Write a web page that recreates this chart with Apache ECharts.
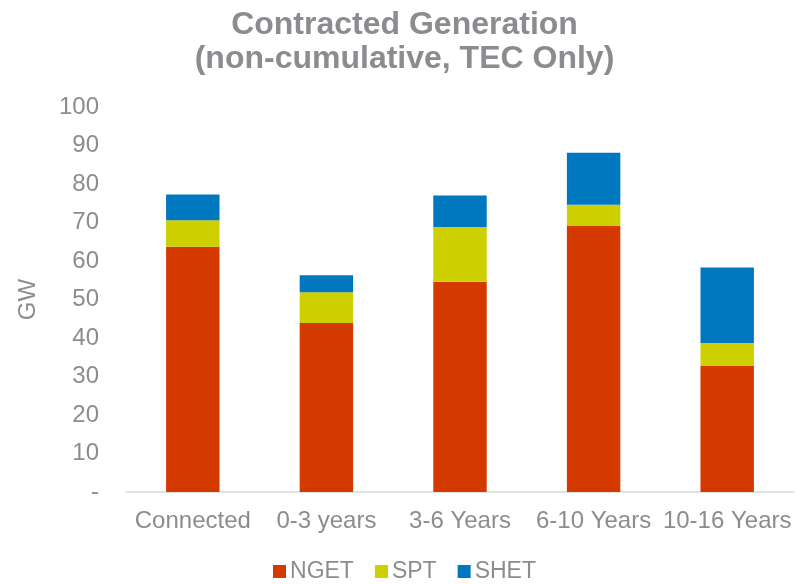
<!DOCTYPE html>
<html>
<head>
<meta charset="utf-8">
<script src="https://cdn.jsdelivr.net/npm/echarts@6/dist/echarts.min.js"></script>
<style>
  html, body { margin: 0; padding: 0; background: #fff; }
  #chart { width: 809px; height: 584px; }
</style>
</head>
<body>
<div id="chart"></div>
<script>
// Contracted generation per time band, GW (stacked by transmission owner)
const categories = ['Connected', '0-3 years', '3-6 Years', '6-10 Years', '10-16 Years'];
const nget = [63.7, 43.9, 54.6, 69.2, 32.7];
const spt  = [6.9, 8.0, 14.2, 5.4, 6.0];
const shet = [6.7, 4.4, 8.2, 13.5, 19.6];

const textGrey = '#8c8c90';
const font = 'Liberation Sans, Arial, sans-serif';

const chart = echarts.init(document.getElementById('chart'));
chart.setOption({
  animation: false,
  title: {
    text: 'Contracted Generation\n(non-cumulative, TEC Only)',
    left: 'center',
    top: 3,
    textStyle: {
      color: textGrey,
      fontFamily: font,
      fontWeight: 'bold',
      fontSize: 32,
      lineHeight: 34
    }
  },
  legend: {
    bottom: -4,
    left: 'center',
    itemWidth: 13,
    itemHeight: 13,
    itemGap: 21,
    icon: 'rect',
    textStyle: { color: textGrey, fontFamily: font, fontSize: 23, padding: [0, 0, 0, -1] },
    data: ['NGET', 'SPT', 'SHET']
  },
  grid: { left: 126, right: 15, top: 107, bottom: 92 },
  xAxis: {
    type: 'category',
    data: categories,
    axisLine: { lineStyle: { color: '#d9d9d9', width: 1.5 } },
    axisTick: { show: false },
    axisLabel: { color: textGrey, fontFamily: font, fontSize: 24, margin: 17, interval: 0 }
  },
  yAxis: {
    type: 'value',
    min: 0,
    max: 100,
    interval: 10,
    name: 'GW',
    nameLocation: 'middle',
    nameGap: 86,
    nameTextStyle: { color: textGrey, fontFamily: font, fontSize: 24 },
    axisLine: { show: false },
    axisTick: { show: false },
    splitLine: { show: false },
    axisLabel: {
      color: textGrey,
      fontFamily: font,
      fontSize: 24,
      margin: 27,
      formatter: v => (v === 0 ? '-' : String(v))
    }
  },
  series: [
    { name: 'NGET', type: 'bar', stack: 'g', data: nget, barWidth: '40%',
      itemStyle: { color: '#d43900' } },
    { name: 'SPT', type: 'bar', stack: 'g', data: spt, barWidth: '40%',
      itemStyle: { color: '#cdcf00' } },
    { name: 'SHET', type: 'bar', stack: 'g', data: shet, barWidth: '40%',
      itemStyle: { color: '#0078c0' } }
  ]
});
</script>
</body>
</html>
